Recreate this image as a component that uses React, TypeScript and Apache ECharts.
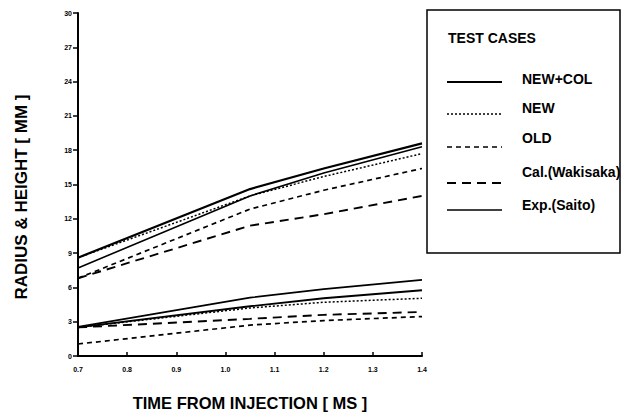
import React, { useEffect, useRef } from "react";
import * as echarts from "echarts";

const times = [0.7, 1.05, 1.2, 1.4];
const xTicks = ["0.7", "0.8", "0.9", "1.0", "1.1", "1.2", "1.3", "1.4"];
const yTicks = [0, 3, 6, 9, 12, 15, 18, 21, 24, 27, 30];

// upper group (height)
const heightNewCol = [8.6, 14.6, 16.4, 18.6];
const heightNew = [8.6, 14.0, 15.7, 17.7];
const heightOld = [6.8, 12.85, 14.5, 16.4];
const heightWakisaka = [6.8, 11.4, 12.4, 14.0];
const heightSaito = [7.7, 14.0, 16.0, 18.3];

// lower group (radius)
const radiusNewCol = [2.55, 5.1, 5.85, 6.65];
const radiusNew = [2.5, 4.2, 4.7, 5.05];
const radiusOld = [1.05, 2.7, 3.1, 3.45];
const radiusWakisaka = [2.5, 3.25, 3.6, 3.85];
const radiusSaito = [2.5, 4.35, 5.05, 5.75];

const legendNames = ["NEW+COL", "NEW", "OLD", "Cal.(Wakisaka)", "Exp.(Saito)"];
const legendDash: (number[] | null)[] = [null, [2, 2], [5, 4], [9, 6], null];
const legendWidth = [2, 1.4, 1.6, 1.8, 1.6];

const pair = (ys: number[]) => times.map((t, i) => [t, ys[i]]);

export default function App() {
  const ref = useRef<HTMLDivElement>(null);
  useEffect(() => {
    if (!ref.current) return;
    const chart = echarts.init(ref.current, null, { renderer: "svg" });
    const mk = (name: string, ys: number[], width: number, dash: number[] | null) => ({
      name,
      type: "line",
      data: pair(ys),
      symbol: "none",
      lineStyle: { color: "#000", width, type: dash ? dash : "solid" },
      silent: true,
    });
    const series = [
      mk("NEW+COL", heightNewCol, 2.2, null),
      mk("NEW", heightNew, 1.5, [2, 2]),
      mk("OLD", heightOld, 1.7, [5, 4]),
      mk("Cal.(Wakisaka)", heightWakisaka, 1.9, [9, 6]),
      mk("Exp.(Saito)", heightSaito, 1.6, null),
      mk("NEW+COL", radiusNewCol, 1.7, null),
      mk("NEW", radiusNew, 1.5, [2, 2]),
      mk("OLD", radiusOld, 1.7, [5, 4]),
      mk("Cal.(Wakisaka)", radiusWakisaka, 1.9, [9, 6]),
      mk("Exp.(Saito)", radiusSaito, 1.9, null),
    ];
    const font = "Liberation Sans";
    const graphic: any[] = [
      {
        type: "text",
        x: 21,
        y: 197,
        rotation: Math.PI / 2,
        style: {
          text: "RADIUS & HEIGHT [ MM ]",
          font: `bold 17px ${font}`,
          fill: "#000",
          align: "center",
          verticalAlign: "middle",
        },
      },
      {
        type: "rect",
        shape: { x: 427, y: 10, width: 193, height: 243 },
        style: { fill: "#fff", stroke: "#000", lineWidth: 1.5 },
      },
      {
        type: "text",
        x: 448,
        y: 38,
        style: { text: "TEST CASES", font: `bold 14px ${font}`, fill: "#000", verticalAlign: "middle" },
      },
    ];
    const rowsY = [79, 108, 138, 172, 205];
    const lineY = [82, 114, 147, 183, 210];
    legendNames.forEach((n, i) => {
      graphic.push({
        type: "line",
        shape: { x1: 447, y1: lineY[i], x2: 502, y2: lineY[i] },
        style: { stroke: "#000", lineWidth: legendWidth[i], lineDash: legendDash[i] || undefined },
      });
      graphic.push({
        type: "text",
        x: 522,
        y: rowsY[i],
        style: { text: n, font: `bold 14px ${font}`, fill: "#000", verticalAlign: "middle" },
      });
    });
    chart.setOption({
      animation: false,
      backgroundColor: "#fff",
      grid: { left: 78, right: 204, top: 13, bottom: 54 },
      xAxis: {
        type: "value",
        min: 0.7,
        max: 1.4,
        interval: 0.1,
        name: "TIME FROM INJECTION [ MS ]",
        nameLocation: "middle",
        nameGap: 38,
        nameTextStyle: { fontFamily: font, fontSize: 16.5, fontWeight: "bold", color: "#000" },
        axisLine: { lineStyle: { color: "#000", width: 2 } },
        axisTick: { inside: true, length: 4, lineStyle: { color: "#000", width: 1.5 } },
        axisLabel: {
          fontFamily: font,
          fontSize: 7,
          fontWeight: "bold",
          color: "#000",
          margin: 10,
          formatter: (v: number) => xTicks[Math.round((v - 0.7) * 10)] ?? v.toFixed(1),
        },
        splitLine: { show: false },
      },
      yAxis: {
        type: "value",
        min: yTicks[0],
        max: yTicks[yTicks.length - 1],
        interval: 3,
        axisLine: { show: true, lineStyle: { color: "#000", width: 2 } },
        axisTick: { show: true, length: 5, lineStyle: { color: "#000", width: 1.5 } },
        axisLabel: { fontFamily: font, fontSize: 7, fontWeight: "bold", color: "#000", margin: 6 },
        splitLine: { show: false },
      },
      series,
      graphic,
    });
    return () => chart.dispose();
  }, []);
  return (
    <div
      ref={ref}
      style={{ position: "absolute", left: 0, top: 0, width: 626, height: 416 }}
    />
  );
}
